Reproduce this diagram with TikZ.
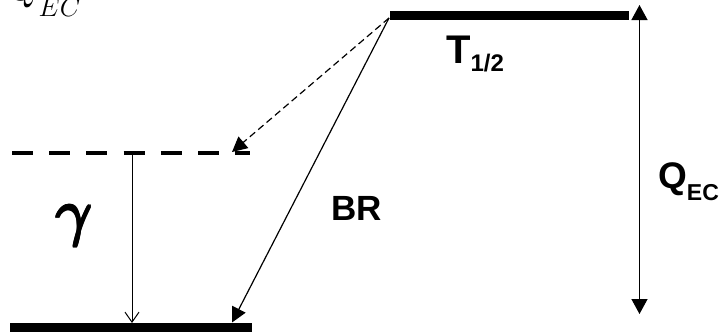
\documentclass[tikz,border=0pt]{standalone}
\usepackage{fix-cm}
\usepackage{fontspec}
\newfontfamily\arialbold[]{Liberation Sans Bold}
\newcommand{\myg}{$\gamma$}
\newcommand{\gcopy}[2]{\rlap{\kern#1\raisebox{#2}{\myg}}}
\newcommand{\fatgamma}{\gcopy{0pt}{0pt}\gcopy{1pt}{0pt}\gcopy{2pt}{0pt}\gcopy{3pt}{0pt}\gcopy{1pt}{1.2pt}\gcopy{2pt}{1.2pt}\gcopy{1pt}{-1.2pt}\gcopy{2pt}{-1.2pt}\gcopy{0.5pt}{0.6pt}\gcopy{2.5pt}{-0.6pt}\gcopy{0.5pt}{-0.6pt}\gcopy{2.5pt}{0.6pt}\kern3pt\phantom{\myg}}
\usetikzlibrary{arrows.meta}
\begin{document}
\begin{tikzpicture}[x=1pt,y=-1pt,
  level/.style={line width=9pt},
  dlevel/.style={line width=4.5pt, dash pattern=on 21pt off 16.2pt},
  conn/.style={line width=1.2pt},
  tri/.style={-{Triangle[length=15pt,width=15pt]}},
  lbl/.style={inner sep=0pt, font=\arialbold}]
\useasboundingbox (0,0) rectangle (726,332);
% levels
\coordinate (ta) at (390,15.5);
\coordinate (tb) at (629,15.5);
\coordinate (da) at (12,153);
\coordinate (db) at (250,153);
\coordinate (ba) at (10,327.5);
\coordinate (bb) at (252,327.5);
\draw[level] (ta) -- (tb);
\draw[dlevel] (da) -- (db);
\draw[level] (ba) -- (bb);
% connectors
\coordinate (src) at (389,18);
\coordinate (dtip) at (232,152);
\coordinate (btip) at (232,322.5);
\coordinate (gtop) at (132,155);
\coordinate (gtip) at (132,323);
\coordinate (qtop) at (639.5,5);
\coordinate (qbot) at (639.5,314);
\draw[conn, dashed, dash pattern=on 7pt off 4pt, tri] (src) -- (dtip);
\draw[conn, tri] (src) -- (btip);
\draw[line width=1pt, -{Straight Barb[length=10pt,width=14pt]}] (gtop) -- (gtip);
\draw[line width=1.3pt, {Triangle[length=15pt,width=16pt]}-{Triangle[length=15pt,width=16pt]}] (qtop) -- (qbot);
% labels
\node[lbl, anchor=base west] (thalf) at (446,63) {\fontsize{40}{40}\selectfont T\raisebox{-8pt}{\fontsize{24}{24}\selectfont 1/2}};
\node[lbl, anchor=base west] (br) at (331,220) {\fontsize{35}{35}\selectfont BR};
\node[lbl, anchor=base west] (qec) at (658,188) {\fontsize{37}{37}\selectfont Q\raisebox{-12pt}{\fontsize{23}{23}\selectfont EC}};
\node[inner sep=0pt] (gam) at (74,226) {\fontsize{64}{64}\selectfont\fatgamma};
\node[inner sep=0pt, anchor=base west] (qtl) at (9,0) {\fontsize{38}{38}\selectfont$Q$\raisebox{-17pt}{\fontsize{27}{27}\selectfont$EC$}};
\end{tikzpicture}
\end{document}
